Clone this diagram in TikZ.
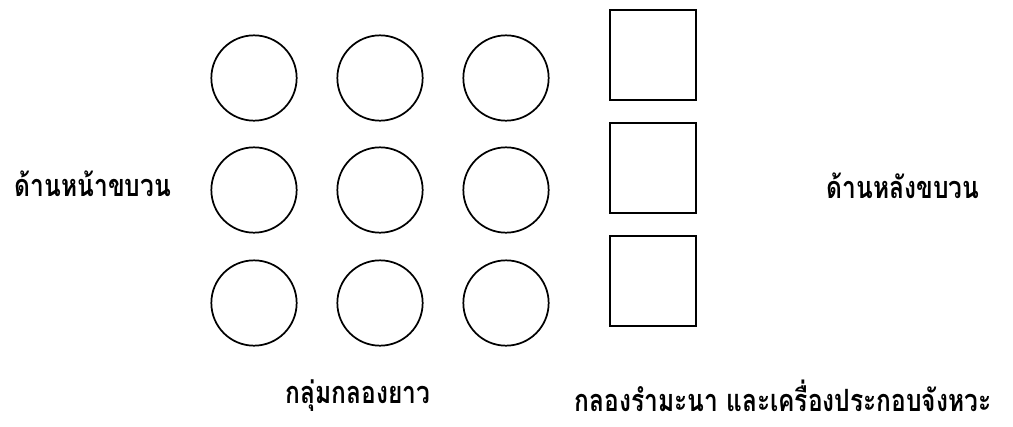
\documentclass[tikz,border=0pt]{standalone}
\usepackage{fontspec}
\newfontfamily\thaifont[Script=Thai, FakeStretch=0.8]{Loma}
\begin{document}
\begin{tikzpicture}[x=0.75pt, y=-0.75pt,
    drum/.style={draw, line width=1.3pt, circle, minimum size=64pt, inner sep=0pt},
    smalldrum/.style={draw, line width=1.3pt, rectangle, minimum width=64pt, minimum height=68pt, inner sep=0pt},
    label/.style={font=\thaifont\bfseries\fontsize{23}{27}\selectfont, inner sep=0pt}]
        % Bounding box
        \useasboundingbox (0,0) rectangle (1013,426);
        
        % Kloeng yao (3x3)
        \foreach \i/\y in {1/78, 2/190, 3/303} {
            \foreach \j/\x in {1/254, 2/380, 3/506} {
                \node[drum] (yao-\i-\j) at (\x, \y) {};
            }
        }
        
        % Klong ramana
        \foreach \i/\y in {1/55, 2/168, 3/281} {
            \node[smalldrum] (ramana-\i) at (653, \y) {};
        }
        
        % Labels
        \node[label] (front) at (93, 184) {ด้านหน้าขบวน};
        \node[label] (back) at (903, 186) {ด้านหลังขบวน};
        \node[label] (yao-label) at (358, 396) {กลุ่มกลองยาว};
        \node[label] (ramana-label) at (783, 396) {กลองรำมะนา และเครื่องประกอบจังหวะ};
    \end{tikzpicture}
\end{document}
